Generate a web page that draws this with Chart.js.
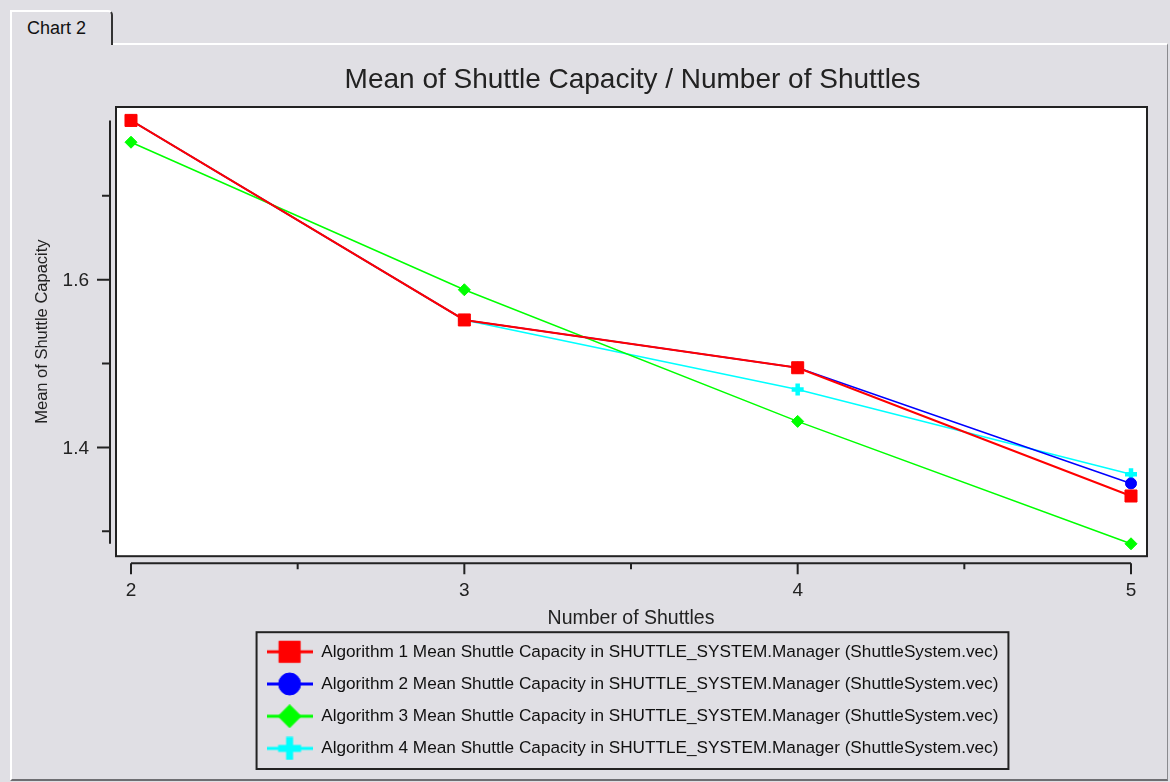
<!DOCTYPE html>
<html>
<head>
<meta charset="utf-8">
<script src="https://cdn.jsdelivr.net/npm/chart.js@4"></script>
<style>
  html, body { margin: 0; padding: 0; }
  body { width: 1170px; height: 782px; background: #e0dfe4; position: relative; overflow: hidden;
         font-family: "Liberation Sans", Arial, sans-serif; }
  .panel { position: absolute; left: 10px; top: 43px; width: 1155px; height: 734px;
           border-left: 2px solid #fff; border-top: 2px solid #fff;
           border-right: 1px solid #8a8a8e; border-bottom: 2px solid #6e6e72; }
  .tab { position: absolute; left: 10px; top: 10px; width: 103px; height: 35px; background: #e0dfe4;
         border-left: 2px solid #fff; border-top: 2px solid #fff; border-right: 2px solid #333;
         border-top-right-radius: 5px; box-sizing: border-box; z-index: 2;
         font-size: 18px; color: #111; padding: 6px 0 0 15px; }
  #chart { position: absolute; left: 0; top: 0; z-index: 3; }
</style>
</head>
<body>
<div class="panel"></div>
<div class="tab">Chart 2</div>
<canvas id="chart" width="1170" height="782"></canvas>
<script>
// data
var shuttles = [2, 3, 4, 5];
var alg1 = [1.790, 1.552, 1.495, 1.342];
var alg2 = [1.790, 1.552, 1.495, 1.357];
var alg3 = [1.764, 1.588, 1.431, 1.285];
var alg4 = [1.790, 1.552, 1.469, 1.368];

var seriesNames = [
  "Algorithm 1 Mean Shuttle Capacity in SHUTTLE_SYSTEM.Manager (ShuttleSystem.vec)",
  "Algorithm 2 Mean Shuttle Capacity in SHUTTLE_SYSTEM.Manager (ShuttleSystem.vec)",
  "Algorithm 3 Mean Shuttle Capacity in SHUTTLE_SYSTEM.Manager (ShuttleSystem.vec)",
  "Algorithm 4 Mean Shuttle Capacity in SHUTTLE_SYSTEM.Manager (ShuttleSystem.vec)"
];
var colors = ['#ff0000', '#0000ff', '#00ff00', '#00ffff'];
var markers = ['rect', 'circle', 'rectRot', 'cross'];

var xTicks = [2, 3, 4, 5];
var xMinorTicks = [2.5, 3.5, 4.5];
var yTicks = [1.4, 1.6];
var yMinorTicks = [1.3, 1.5, 1.7];

var FONT = '"Liberation Sans", Arial, sans-serif';

function pts(ys) {
  return shuttles.map(function (x, i) { return { x: x, y: ys[i] }; });
}

// little legend pictures: line with the marker on it
function legendSample(color, style) {
  var c = document.createElement('canvas');
  c.width = 46; c.height = 24;
  var g = c.getContext('2d');
  g.strokeStyle = color; g.fillStyle = color;
  g.lineWidth = 3;
  g.beginPath(); g.moveTo(0, 12); g.lineTo(46, 12); g.stroke();
  var r = { rect: 15, circle: 11, rectRot: 11.5, cross: 11.5 }[style];
  g.lineWidth = style === 'cross' ? 7 : 1;
  Chart.helpers.drawPoint(g, { pointStyle: style, radius: r, rotation: 0, borderWidth: g.lineWidth }, 23, 12);
  return c;
}

var allValues = alg1.concat(alg2, alg3, alg4);
var dataMin = Math.min.apply(null, allValues);
var dataMax = Math.max.apply(null, allValues);

var framePlugin = {
  id: 'frame',
  beforeDatasetsDraw: function (chart) {
    var a = chart.chartArea, ctx = chart.ctx;
    ctx.save();
    ctx.fillStyle = '#fff';
    ctx.fillRect(a.left, a.top, a.right - a.left, a.bottom - a.top);
    ctx.strokeStyle = '#222';
    ctx.lineWidth = 2;
    ctx.strokeRect(a.left, a.top, a.right - a.left, a.bottom - a.top);
    ctx.restore();
  },
  afterDraw: function (chart) {
    var a = chart.chartArea, ctx = chart.ctx;
    var xs = chart.scales.x, ys = chart.scales.y;
    ctx.save();
    ctx.strokeStyle = '#222';
    ctx.fillStyle = '#222';
    ctx.lineWidth = 2;

    // y axis, detached from the plot, spans the data range
    var ax = a.left - 6;
    ctx.beginPath();
    ctx.moveTo(ax, ys.getPixelForValue(dataMax));
    ctx.lineTo(ax, ys.getPixelForValue(dataMin));
    yTicks.forEach(function (v) {
      var p = ys.getPixelForValue(v);
      ctx.moveTo(ax - 13, p); ctx.lineTo(ax, p);
    });
    yMinorTicks.forEach(function (v) {
      var p = ys.getPixelForValue(v);
      ctx.moveTo(ax - 8, p); ctx.lineTo(ax, p);
    });
    ctx.stroke();
    ctx.font = '19px ' + FONT;
    ctx.textAlign = 'right';
    ctx.textBaseline = 'middle';
    yTicks.forEach(function (v) {
      ctx.fillText(v.toFixed(1), ax - 21, ys.getPixelForValue(v) + 1);
    });

    // x axis
    var ay = a.bottom + 7;
    ctx.beginPath();
    ctx.moveTo(xs.getPixelForValue(xTicks[0]), ay);
    ctx.lineTo(xs.getPixelForValue(xTicks[xTicks.length - 1]), ay);
    xTicks.forEach(function (v) {
      var p = xs.getPixelForValue(v);
      ctx.moveTo(p, ay); ctx.lineTo(p, ay + 11);
    });
    xMinorTicks.forEach(function (v) {
      var p = xs.getPixelForValue(v);
      ctx.moveTo(p, ay); ctx.lineTo(p, ay + 6);
    });
    ctx.stroke();
    ctx.textAlign = 'center';
    xTicks.forEach(function (v) {
      ctx.fillText(String(v), xs.getPixelForValue(v), ay + 28);
    });

    // axis titles
    ctx.font = '19.5px ' + FONT;
    ctx.fillText('Number of Shuttles', (xs.getPixelForValue(2) + xs.getPixelForValue(5)) / 2, a.bottom + 62);
    ctx.save();
    ctx.translate(42, (a.top + a.bottom) / 2);
    ctx.rotate(-Math.PI / 2);
    ctx.font = '16.5px ' + FONT;
    ctx.fillText('Mean of Shuttle Capacity', 0, 0);
    ctx.restore();

    // box round the legend
    var hb = chart.legend.legendHitBoxes;
    if (hb && hb.length) {
      var l = hb[0].left - 10;
      var r = hb[0].left + hb[0].width + 10;
      ctx.lineWidth = 2;
      ctx.strokeRect(l, chart.legend.top + 4, r - l, chart.legend.bottom - chart.legend.top - 2);
    }
    ctx.restore();
  }
};

var datasets = [alg1, alg2, alg3, alg4].map(function (ys, i) {
  var st = markers[i];
  return {
    label: seriesNames[i],
    data: pts(ys),
    borderColor: colors[i],
    backgroundColor: colors[i],
    borderWidth: i === 0 ? 2 : 1.5,
    pointStyle: st,
    pointRadius: { rect: 8.5, circle: 5.5, rectRot: 6, cross: 6 }[st],
    pointBorderWidth: st === 'cross' ? 4.5 : 1,
    pointBackgroundColor: colors[i],
    pointBorderColor: colors[i],
    tension: 0
  };
});

var samples = colors.map(function (c, i) { return legendSample(c, markers[i]); });

new Chart(document.getElementById('chart'), {
  type: 'line',
  data: { datasets: datasets },
  options: {
    responsive: false,
    animation: false,
    events: [],
    layout: { padding: { left: 100, right: 5, top: 40, bottom: 15 } },
    scales: {
      x: {
        type: 'linear', min: 1.955, max: 5.048,
        grid: { display: false }, border: { display: false }, ticks: { display: false },
        afterFit: function (s) { s.height = 72; }
      },
      y: {
        type: 'linear', min: 1.2702, max: 1.806,
        grid: { display: false }, border: { display: false }, ticks: { display: false },
        afterFit: function (s) { s.width = 16; }
      },
      y2: {
        type: 'linear', position: 'right',
        grid: { display: false }, border: { display: false }, ticks: { display: false },
        afterFit: function (s) { s.width = 18; }
      }
    },
    plugins: {
      title: {
        display: true,
        text: 'Mean of Shuttle Capacity / Number of Shuttles',
        color: '#222',
        font: { family: FONT, size: 28, weight: 'normal' },
        padding: { top: 23, bottom: 10.4 }
      },
      legend: {
        position: 'bottom',
        labels: {
          usePointStyle: true,
          pointStyleWidth: 46,
          padding: 15,
          color: '#111',
          font: { family: FONT, size: 17.2 },
          generateLabels: function (chart) {
            return chart.data.datasets.map(function (ds, i) {
              return { text: ds.label, pointStyle: samples[i], fillStyle: colors[i], strokeStyle: colors[i],
                       lineWidth: 0, hidden: false, datasetIndex: i, fontColor: '#111' };
            });
          }
        }
      },
      tooltip: { enabled: false }
    }
  },
  plugins: [framePlugin]
});
</script>
</body>
</html>
